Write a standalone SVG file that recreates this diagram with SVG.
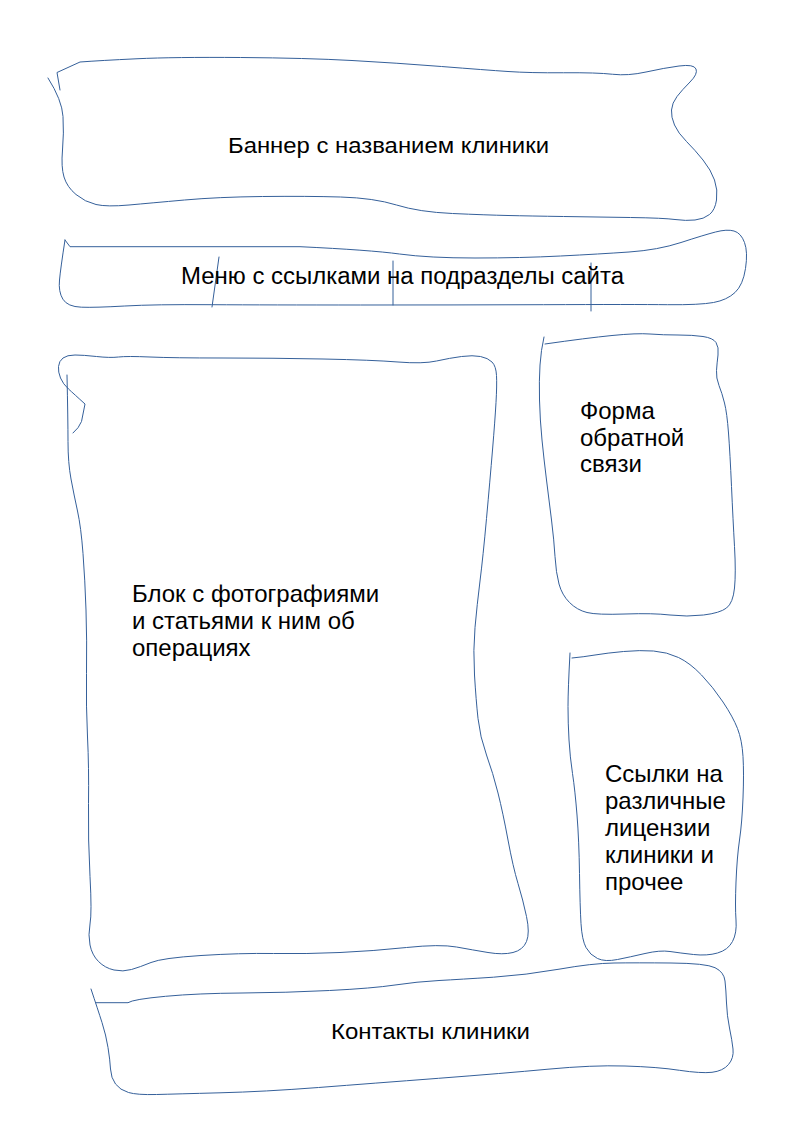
<svg xmlns="http://www.w3.org/2000/svg" width="794" height="1123" viewBox="0 0 794 1123">
<style>
.s{fill:none;stroke:#35609a;stroke-width:1;stroke-linejoin:round;stroke-linecap:round}
.t{font-family:"Liberation Sans",Arial,sans-serif;fill:#000}
.n{font-size:22px}
.m{font-size:23px}
.b{font-size:24px}
</style>
<rect width="794" height="1123" fill="#fff"/>
<g id="banner">
<path class="s" d="M60,90 L57,72.5 L80,62 Q100,60.5 137,58.75 Q174,57 240.5,57.5 Q307,58 352,60.5 Q397,63 441.5,66.5 Q486,70 508,71.5 Q530,73 563.5,72.75 Q597,72.5 612.5,74.25 Q628,76 646,72 Q664,68 679,66 Q694,64 696,69 Q698,74 690,82 Q682,90 677,96.5 Q672,103 671.5,110 Q671,117 674.5,125 Q678,133 686.5,141.5 Q695,150 703,160 Q711,170 714.5,180 Q718,190 716.5,200 Q715,210 709.5,214.5 Q704,219 695,220 Q686,221 675,219.5 Q664,218 630.5,217.5 Q597,217 563.5,216.5 Q530,216 508,215.5 Q486,215 452.5,213.5 Q419,212 396.5,205 Q374,198 340.5,197 Q307,196 262.5,196.5 Q218,197 184.5,200 Q151,203 129,205 Q107,207 96,204.5 Q85,202 76,194.5 Q67,187 64,177 Q61,167 62.5,150 Q64,133 63,116.5 Q62,100 48,78"/>
<text class="t n" x="228" y="153" textLength="321" lengthAdjust="spacingAndGlyphs">Баннер с названием клиники</text>
</g>
<g id="menu">
<path class="s" d="M65,240 L70,246.7 L300,246.7 Q370,250 399.5,254 Q429,258 475,258 Q521,258 560.5,256 Q600,254 629,252 Q658,250 681,242.5 Q704,235 715.5,232 Q727,229 734,231 Q741,233 744.5,242.5 Q748,252 745.5,268.5 Q743,285 735,292.5 Q727,300 713.5,302.5 Q700,305 667.5,304.7 Q635,304.3 543.5,304.7 Q452,305 360.5,305 Q269,305 211.8,304.7 Q154.5,304.3 124.8,306 Q95,307.7 81.3,307.2 Q67.5,306.7 62.9,299.2 Q58.3,291.7 59.5,280 Q60.6,268.3 65,240"/>
<path class="s" d="M219,257 L212,307 M393,261 L393,305 M591,263 L591,311"/>
<text class="t m" x="181" y="284" textLength="443" lengthAdjust="spacingAndGlyphs">Меню с ссылками на подразделы сайта</text>
</g>
<g id="photos">
<path class="s" d="M67,375 Q68,420 68,441.5 Q68,463 71,479 Q74,495 77.5,511 Q81,527 83,553.5 Q85,580 86,610 Q87,640 86.5,673.5 Q86,707 87.5,737 Q89,767 88.5,803.5 Q88,840 90,876.5 Q92,913 90,924 Q88,935 90,945 Q92,955 98.5,961.5 Q105,968 114,970 Q123,972 131.5,969.5 Q140,967 151,962.5 Q162,958 201,955.5 Q240,953 273.5,953.5 Q307,954 340,952.5 Q373,951 406.5,947.5 Q440,944 456.5,947 Q473,950 488,952.5 Q503,955 513,952.5 Q523,950 526.5,941.5 Q530,933 526.5,916.5 Q523,900 518,883.5 Q513,867 508,840 Q503,813 498,793 Q493,773 486.5,755 Q480,737 478,718.5 Q476,700 474.5,675 Q473,650 475,627.5 Q477,605 480,581 Q483,557 486.5,518.5 Q490,480 492.5,450 Q495,420 496,402.5 Q497,385 496.5,375.5 Q496,366 492,362 Q488,358 480.5,356.5 Q473,355 461.5,356.5 Q450,358 436.5,361 Q423,364 398,362 Q373,360 323,359 Q273,358 223,358 Q173,358 150,357 Q127,356 118.5,357 Q110,358 96.5,356.5 Q83,355 75,355 Q67,355 63,358 Q59,361 58.5,366.5 Q58,372 60.5,378 Q63,384 68.5,389 Q74,394 85,404 L81.5,421.5 Q79,428 73,433"/>
<text class="t b" x="132" y="602">Блок с фотографиями</text>
<text class="t b" x="132" y="629">и статьями к ним об</text>
<text class="t b" x="132" y="656">операциях</text>
</g>
<g id="feedback">
<path class="s" d="M544,337 Q541,350 540,365 Q539,380 539.5,400 Q540,420 542,440 Q544,460 546.5,480 Q549,500 551.5,520 Q554,540 555,556.5 Q556,573 559,584 Q562,595 569.5,602.5 Q577,610 587,612.5 Q597,615 625,614 Q653,613 670,615 Q687,617 703.5,615 Q720,613 726.5,608 Q733,603 734.5,588 Q736,573 734.5,546.5 Q733,520 731.5,486.5 Q730,453 728.5,433 Q727,413 724.5,403 Q722,393 719,385.5 Q716,378 716.5,370.5 Q717,363 718,355 Q719,347 716,342.5 Q713,338 703,336.5 Q693,335 678,335 Q663,335 650,334 Q637,333 612,335.5 Q587,338 545,344"/>
<text class="t b" x="580" y="419">Форма</text>
<text class="t b" x="580" y="445.5">обратной</text>
<text class="t b" x="580" y="472">связи</text>
</g>
<g id="licenses">
<path class="s" d="M570,653 Q568,690 568,706.5 Q568,723 569,740 Q570,757 572.5,773.5 Q575,790 577,815 Q579,840 579.5,873.5 Q580,907 581,923.5 Q582,940 586,947.5 Q590,955 597.5,958.5 Q605,962 617.5,959.5 Q630,957 645,953.5 Q660,950 670,951.5 Q680,953 693.5,954.5 Q707,956 717.5,953 Q728,950 732.5,941.5 Q737,933 736,920 Q735,907 736,882 Q737,857 739.5,840 Q742,823 743,798 Q744,773 743,756.5 Q742,740 737.5,728.5 Q733,717 723,702 Q713,687 701.5,675 Q690,663 678.5,657.5 Q667,652 653.5,651 Q640,650 623.5,651.5 Q607,653 595,655 Q583,657 572,658"/>
<text class="t b" x="605" y="782">Ссылки на</text>
<text class="t b" x="605" y="809">различные</text>
<text class="t b" x="605" y="836">лицензии</text>
<text class="t b" x="605" y="863">клиники и</text>
<text class="t b" x="605" y="890">прочее</text>
</g>
<g id="contacts">
<path class="s" d="M91,989 Q98,1010 102,1022.5 Q106,1035 108,1047.5 Q110,1060 110.5,1069 Q111,1078 115.5,1084 Q120,1090 128.5,1092.5 Q137,1095 156.5,1094.5 Q176,1094 220,1092.8 Q264,1091.7 318.5,1087.5 Q373,1083.3 438.5,1078.3 Q504,1073.3 548,1069.2 Q592,1065 625,1066 Q658,1067 679.5,1070.3 Q701,1073.5 712,1072.3 Q723,1071 728.5,1064.5 Q734,1058 733,1049 Q732,1040 729.5,1028 Q727,1016 726.5,1003 Q726,990 725,981 Q724,972 715,967.7 Q706,963.3 671,963 Q636,962.7 614,963 Q592,963.3 559,969.2 Q526,975 493.5,977.2 Q461,979.3 439,980.5 Q417,981.7 395,985 Q373,988.3 329.5,990.5 Q286,992.7 242,993 Q198,993.3 165.5,996.3 Q133,999.3 128,1002.7 L96,1002.7"/>
<text class="t n" x="331" y="1039" textLength="199" lengthAdjust="spacingAndGlyphs">Контакты клиники</text>
</g>
<g id="connectors"/>
</svg>
